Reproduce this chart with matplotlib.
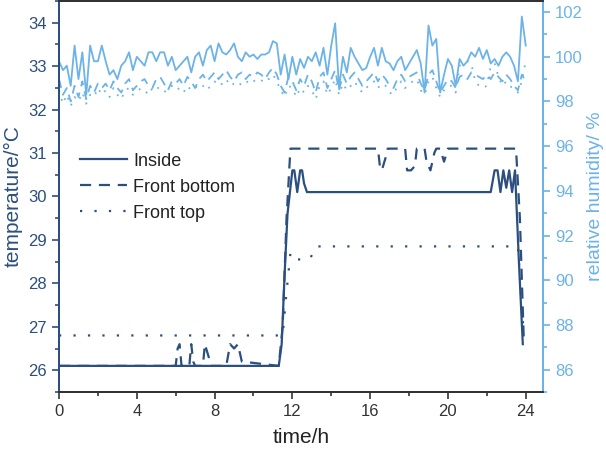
import numpy as np
import matplotlib
matplotlib.use('Agg')
import matplotlib.pyplot as plt
from matplotlib.ticker import MultipleLocator

plt.rcParams['font.family'] = ['Liberation Sans', 'DejaVu Sans']

DARK = '#2b4f7f'
LIGHT = '#6cb3e8'

# temperature (left axis)
t_in = [0, 11.3, 11.45, 11.6, 11.75, 11.9, 12.0, 12.1, 12.25, 12.4, 12.5, 12.6, 12.75,
        22.2, 22.4, 22.55, 22.7, 22.85, 23.0, 23.15, 23.3, 23.45, 23.65, 23.85]
temp_in = [26.1, 26.1, 26.6, 28.2, 29.6, 30.2, 30.6, 30.6, 30.1, 30.6, 30.6, 30.3, 30.1,
           30.1, 30.6, 30.6, 30.1, 30.6, 30.2, 30.6, 30.1, 30.6, 28.5, 26.6]

t_fb = [0, 6.0, 6.1, 6.2, 6.3, 6.7, 6.8, 6.9, 7.0, 7.4, 7.5, 7.7, 7.8, 8.6, 8.8, 9.0, 9.2, 9.4,
        11.3, 11.5, 11.7, 11.9, 16.4, 16.5, 16.6, 16.8, 16.9, 17.8, 17.9, 18.1, 18.3, 18.4,
        18.8, 18.9, 19.1, 19.3, 19.4, 19.6, 19.8, 20.0, 23.5, 23.7, 23.9]
temp_fb = [26.1, 26.1, 26.5, 26.6, 26.1, 26.1, 26.6, 26.2, 26.1, 26.1, 26.6, 26.3, 26.1,
           26.1, 26.6, 26.5, 26.6, 26.2, 26.1, 27.0, 29.5, 31.1, 31.1, 30.7, 30.6, 30.9, 31.1,
           31.1, 30.6, 30.6, 30.7, 31.1, 31.1, 30.8, 30.6, 31.0, 31.1, 31.1, 30.8, 31.1, 31.1,
           29.5, 26.7]

t_ft = [0, 11.5, 11.7, 11.9, 12.0, 12.2, 12.9, 13.2, 23.6, 23.75, 23.9]
temp_ft = [26.8, 26.8, 27.8, 28.7, 28.7, 28.55, 28.55, 28.85, 28.85, 27.8, 26.8]

# relative humidity (right axis), one reading every 0.2 h
t_rh = np.linspace(0, 24, 121)
rh_in = [99.8, 99.4, 99.6, 98.7, 100.5, 99.0, 100.2, 98.3, 100.5, 99.8, 99.8,
         100.5, 99.8, 99.2, 99.4, 99.0, 99.6, 99.8, 100.2, 99.4, 100.0,
         99.8, 99.6, 100.2, 100.2, 99.8, 100.2, 100.2, 99.6, 100.0, 99.4,
         99.6, 99.8, 100.0, 99.3, 100.0, 100.2, 99.6, 100.3, 100.5, 99.8,
         100.6, 100.2, 100.1, 100.3, 100.6, 100.0, 99.8, 100.2, 100.0, 100.1,
         99.9, 100.1, 100.1, 100.2, 100.7, 100.6, 99.2, 100.1, 99.0, 100.0,
         99.2, 99.9, 99.5, 100.0, 99.8, 100.2, 99.6, 100.4, 99.2, 100.5,
         101.5, 98.6, 100.0, 99.3, 100.4, 100.0, 99.7, 99.4, 99.5, 100.0,
         100.4, 99.6, 100.4, 99.8, 99.7, 99.4, 99.8, 100.0, 99.4, 99.7,
         100.0, 100.3, 99.7, 98.4, 101.4, 100.5, 100.8, 98.4, 99.2, 99.9,
         99.6, 98.7, 99.9, 99.6, 99.8, 100.2, 100.0, 100.4, 99.9, 100.3,
         99.7, 99.9, 99.6, 100.0, 100.2, 100.0, 99.6, 98.9, 101.8, 100.5]
rh_fb = [99.0, 98.3, 98.6, 98.0, 98.7, 98.2, 98.9, 98.1, 98.7, 98.4, 98.8,
         98.6, 98.8, 98.5, 98.9, 98.6, 98.4, 98.8, 99.0, 98.5, 98.7,
         98.9, 99.0, 98.7, 98.6, 99.0, 99.1, 98.8, 98.5, 98.9, 98.8,
         99.0, 98.7, 99.1, 98.9, 98.6, 99.0, 99.2, 98.9, 99.1, 99.3,
         99.0, 99.2, 99.4, 99.1, 98.9, 99.2, 99.3, 99.0, 99.2, 99.1,
         99.3, 99.2, 99.0, 99.3, 99.5, 99.2, 98.7, 98.4, 99.1, 98.9,
         98.5, 99.0, 98.7, 99.2, 98.9, 98.4, 99.1, 99.3, 98.6, 99.0,
         99.4, 98.5, 99.2, 98.8, 99.1, 99.3, 99.0, 98.7, 98.9, 99.1,
         99.3, 98.9, 99.2, 99.0, 98.7, 98.6, 99.0, 99.2, 98.9, 99.1,
         99.2, 99.3, 98.8, 98.5, 99.2, 99.4, 98.9, 98.4, 98.7, 99.0,
         98.9, 98.6, 99.1, 99.2, 99.0, 99.3, 99.2, 99.1, 99.0, 99.2,
         99.0, 99.3, 99.1, 98.9, 99.2, 99.0, 98.7, 98.5, 99.2, 98.9]
rh_ft = [98.5, 97.9, 98.3, 97.8, 98.2, 98.0, 98.4, 97.9, 98.3, 98.2, 98.6,
         98.3, 98.5, 98.2, 98.6, 98.3, 98.1, 98.5, 98.6, 98.3, 98.4,
         98.6, 98.5, 98.3, 98.6, 98.7, 98.5, 98.4, 98.6, 98.7, 98.5,
         98.6, 98.4, 98.7, 98.5, 98.6, 98.8, 98.7, 98.5, 98.7, 98.9,
         98.7, 98.8, 99.0, 98.7, 98.8, 98.9, 98.7, 98.8, 99.0, 98.9,
         99.0, 98.9, 99.1, 99.0, 99.2, 98.9, 98.5, 98.2, 98.7, 98.6,
         98.2, 98.6, 98.4, 98.7, 98.5, 98.1, 98.7, 98.9, 98.3, 98.6,
         99.0, 98.3, 98.8, 98.5, 98.7, 98.9, 98.6, 98.4, 98.6, 98.8,
         98.9, 98.6, 98.8, 98.7, 98.4, 98.3, 98.7, 98.9, 98.6, 98.8,
         98.9, 99.0, 98.5, 98.3, 98.9, 99.1, 98.6, 98.2, 98.5, 98.7,
         98.7, 98.4, 99.6, 99.7, 99.8, 99.7, 98.9, 98.7, 98.6, 98.7,
         99.6, 99.7, 99.1, 98.7, 98.9, 98.7, 98.5, 98.4, 98.9, 99.8]

fig = plt.figure(figsize=(6.06, 4.5), dpi=100)
ax = fig.add_axes([0.0974, 0.129, 0.799, 0.869])
ax2 = ax.twinx()

lw = 1.6
ax.plot(t_in, temp_in, color=DARK, lw=lw, label='Inside')
ax.plot(t_fb, temp_fb, color=DARK, lw=lw, ls=(0, (5, 3.5)), label='Front bottom')
ax.plot(t_ft, temp_ft, color=DARK, lw=lw, ls=(0, (1, 5.5)), label='Front top')

ax2.plot(t_rh, rh_in, color=LIGHT, lw=1.3)
ax2.plot(t_rh, rh_fb, color=LIGHT, lw=1.3, ls=(0, (5, 3.5)))
ax2.plot(t_rh, rh_ft, color=LIGHT, lw=1.3, ls=(0, (1, 4)))

ax.set_xlim(0, 24.9)
ax.set_ylim(25.5, 34.5)
ax2.set_ylim(85, 102.5)

ax.xaxis.set_major_locator(MultipleLocator(4))
ax.xaxis.set_minor_locator(MultipleLocator(2))
ax.yaxis.set_major_locator(MultipleLocator(1))
ax.yaxis.set_minor_locator(MultipleLocator(0.5))
ax2.yaxis.set_major_locator(MultipleLocator(2))
ax2.yaxis.set_minor_locator(MultipleLocator(1))

ax.tick_params(axis='x', which='both', colors='#333333', labelsize=12)
ax.tick_params(axis='x', which='major', length=5, width=1.2)
ax.tick_params(axis='x', which='minor', length=3, width=1.2)
ax.tick_params(axis='y', which='both', colors=DARK, labelsize=12)
ax.tick_params(axis='y', which='major', length=5, width=1.2)
ax.tick_params(axis='y', which='minor', length=3, width=1.2)
ax2.tick_params(axis='y', which='both', colors=LIGHT, labelsize=12)
ax2.tick_params(axis='y', which='major', length=5, width=1.2)
ax2.tick_params(axis='y', which='minor', length=3, width=1.2)

for a in (ax, ax2):
    a.spines['left'].set_color(DARK)
    a.spines['right'].set_color(LIGHT)
    a.spines['top'].set_color('#333333')
    a.spines['bottom'].set_color('#333333')
    for s in a.spines.values():
        s.set_linewidth(1.4)

ax.set_xlabel('time/h', fontsize=15, color='#222222', labelpad=7)
ax.set_ylabel('temperature/°C', fontsize=15, color=DARK, labelpad=4)
ax2.set_ylabel('relative humidity/ %', fontsize=14, color=LIGHT, labelpad=3)

ax.legend(loc='upper left', bbox_to_anchor=(0.025, 0.635), frameon=False,
          fontsize=13, handlelength=2.6, handletextpad=0.35, labelspacing=0.5,
          borderpad=0, labelcolor='#222222')

fig.savefig('out.png', dpi=100)
